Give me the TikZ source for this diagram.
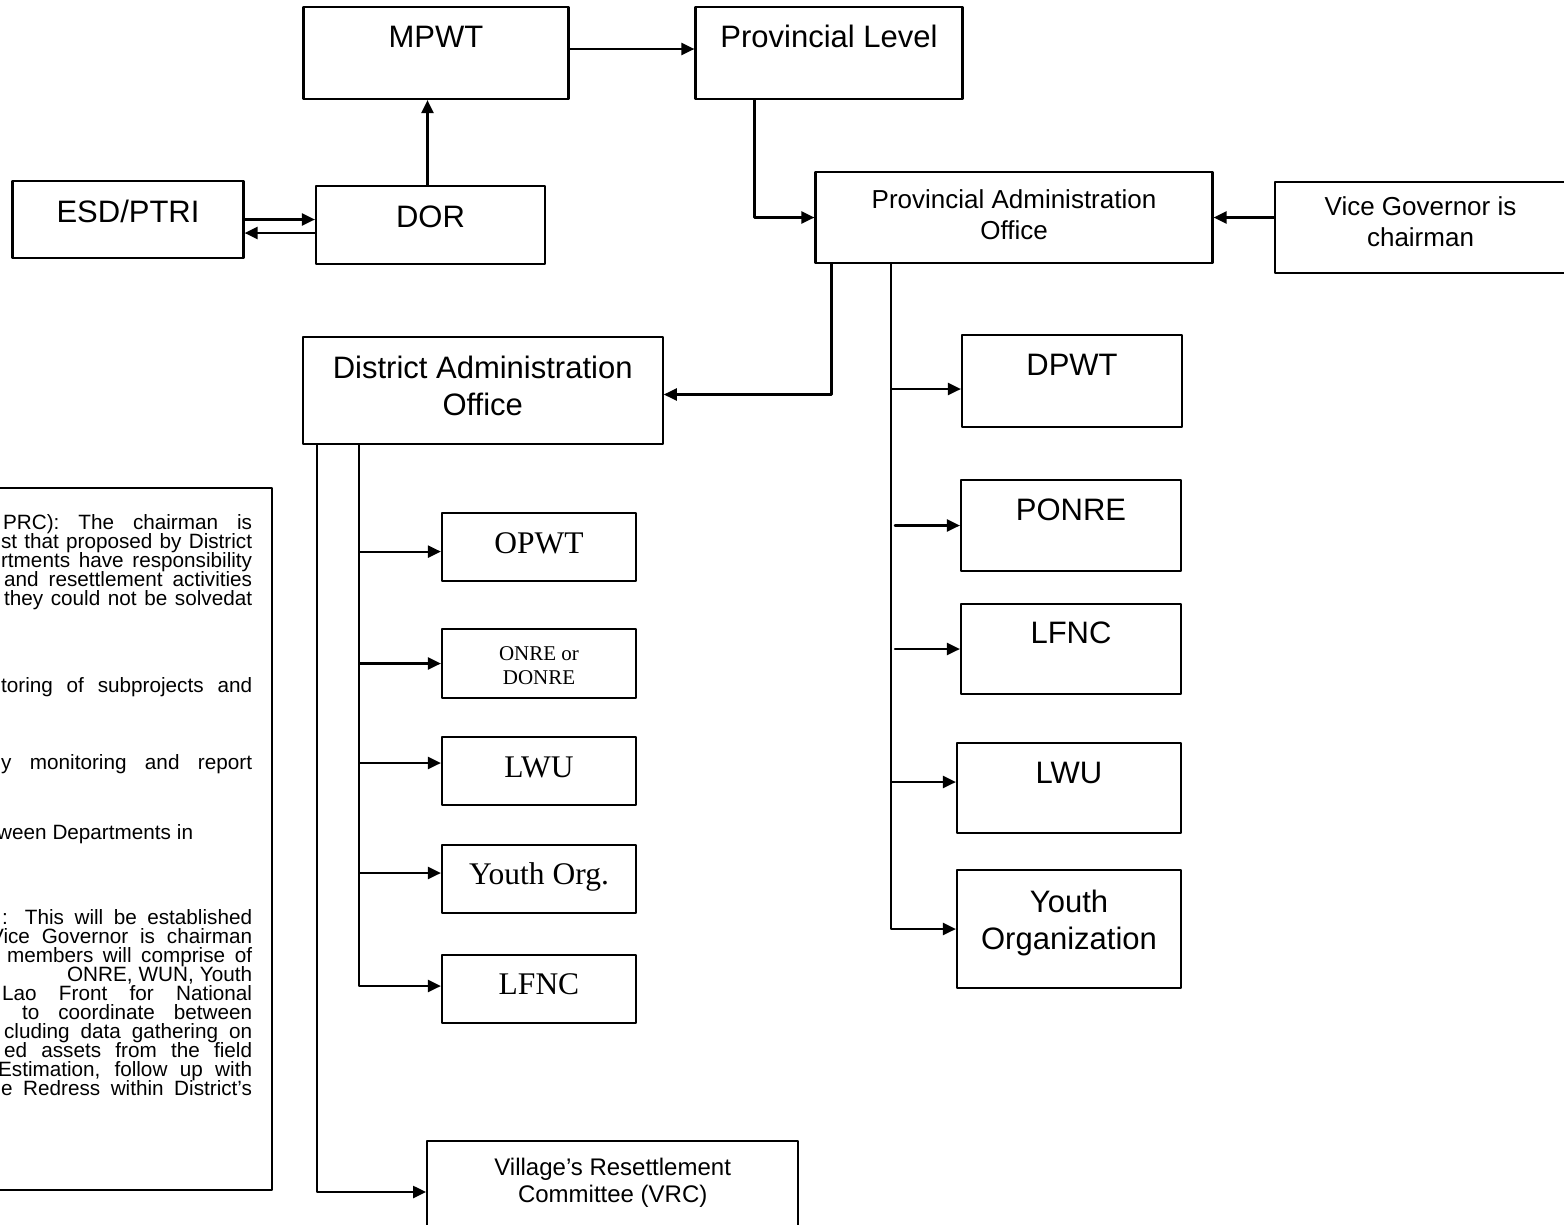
\documentclass[tikz,border=0pt]{standalone}
\usepackage{fontspec}
\setmainfont{Liberation Sans}
\newfontfamily\tnr{Liberation Serif}
\usetikzlibrary{arrows.meta}
\newcommand{\twoline}[2]{\begin{tabular}[t]{@{}c@{}}#1\\#2\end{tabular}}

\begin{document}
\begin{tikzpicture}[x=1pt,y=-1pt,>={Triangle[length=13pt,width=12pt]},line width=2.2pt,line join=round,line cap=round,
box/.style={draw,inner sep=0pt,anchor=base},
big/.style={font=\fontsize{31}{37}\selectfont},
mid/.style={font=\fontsize{26}{31}\selectfont},
rom/.style={font=\tnr\fontsize{31.5}{37}\selectfont},
tb/.style 2 args={text height=#1pt,text depth=#2pt}]
\useasboundingbox (0,0) rectangle (1564,1224);
\clip (0,0) rectangle (1564,1224);
% ministry and province
\node (mpwt) [box,big,minimum width=265pt,tb={40}{52}] at (436,47) {MPWT};
\node (plevel) [box,big,minimum width=267pt,tb={40}{52}] at (829,47) {Provincial Level};
\node (esd) [box,big,minimum width=231pt,tb={41}{36}] at (128,222) {ESD/PTRI};
\node (dor) [box,big,minimum width=229pt,tb={41}{37}] at (430.5,227) {DOR};
\node (pao) [box,mid,minimum width=397pt,tb={36}{55}] at (1014,208) {\twoline{Provincial Administration}{Office}};
\node (vice) [box,mid,minimum width=291pt,tb={33}{58}] at (1420.5,215) {\twoline{Vice Governor is}{chairman}};
% district
\node (dao) [box,big,minimum width=360pt,tb={41}{66}] at (482.7,378) {\twoline{District Administration}{Office}};
\node (opwt) [box,rom,minimum width=194pt,tb={40}{28}] at (539,553) {OPWT};
\node (onre) [box,font=\tnr\fontsize{21}{24}\selectfont,minimum width=194pt,tb={31}{38}] at (539,660) {\twoline{ONRE or}{DONRE}};
\node (dlwu) [box,rom,minimum width=194pt,tb={40}{28}] at (539,777) {LWU};
\node (dyouth) [box,rom,minimum width=194pt,tb={39}{29}] at (539,884) {Youth Org.};
\node (dlfnc) [box,rom,minimum width=194pt,tb={39}{29}] at (539,994) {LFNC};
\node (vrc) [box,font=\fontsize{24}{27}\selectfont,minimum width=371pt,tb={34}{100}] at (612.7,1175) {\twoline{Village’s Resettlement}{Committee (VRC)}};
% provincial departments
\node (dpwt) [box,big,minimum width=220pt,tb={40}{52}] at (1072,375) {DPWT};
\node (ponre) [box,big,minimum width=220pt,tb={40}{51}] at (1071,520) {PONRE};
\node (plfnc) [box,big,minimum width=220pt,tb={39}{51}] at (1071,643) {LFNC};
\node (plwu) [box,big,minimum width=224pt,tb={40}{50}] at (1069,783) {LWU};
\node (pyouth) [box,big,minimum width=224pt,tb={42}{76}] at (1069,912) {\twoline{Youth}{Organization}};
% note box, cut by the left edge
\node (note) [draw,minimum width=320pt,minimum height=702pt,anchor=north east] at (272.7,487) {};
\foreach \y/\xa/\xb/\txt in {529/2/251/{PRC): The chairman is},548/0/251/{st that proposed by District},
567/0/251/{rtments have responsibility},586/3/251/{and resettlement activities},605/3/251/{they could not be solvedat},
692/0/251/{toring of subprojects and},769/0/251/{y monitoring and report},839/-4/192/{ween Departments in},
924/1/251/{: This will be established},943/-11/251/{Vice Governor is chairman},962/6/251/{members will comprise of},
981/66/251/{ONRE, WUN, Youth},1000/1/251/{Lao Front for National},1019/21/251/{to coordinate between},
1038/3/251/{cluding data gathering on},1057/3/251/{ed assets from the field},1076/-3/251/{Estimation, follow up with},
1095/0/251/{e Redress within District’s}}
\node (n\y) [anchor=base west,inner sep=0pt,font=\fontsize{20.7}{19}\selectfont] at (\xa,\y) {\makebox[\dimexpr\xb pt-\xa pt\relax][s]{\txt}};
% connectors
\coordinate (up) at ([xshift=-3pt]dor.north);
\coordinate (back) at ([yshift=-13.5pt]esd.east);
\coordinate (pdrop) at ([xshift=60pt]plevel.south west);
\coordinate (ldrop) at ([xshift=17pt]pao.south west);
\coordinate (rt) at ([xshift=76.5pt]pao.south west);
\coordinate (la) at ([xshift=15.3pt]dao.south west);
\coordinate (lb) at ([xshift=57.3pt]dao.south west);
\draw[->] ([yshift=4pt]mpwt.east) -- ([yshift=4pt]plevel.west);
\draw[->] (up) -- (up |- mpwt.south);
\draw[->] (esd.east) -- (esd.east -| dor.west);
\draw[->] (back -| dor.west) -- (back);
\draw[->] (pdrop) |- (pao.west);
\draw[->] (vice.west |- pao.east) -- (pao.east);
\draw[->] (ldrop) |- ([yshift=-4pt]dao.east);
\draw[->] (rt) |- ([yshift=-8pt]dpwt.west);
\draw[->] (rt |- ponre.west) ++(4,0) -- (ponre.west);
\draw[->] (rt |- plfnc.west) ++(4,0) -- (plfnc.west);
\draw[->] (rt) |- ([yshift=6pt]plwu.west);
\draw[->] (rt) |- (pyouth.west);
\draw[->] (lb) |- ([yshift=-4.6pt]opwt.west);
\draw[->] (lb) |- (onre.west);
\draw[->] (lb) |- ([yshift=8pt]dlwu.west);
\draw[->] (lb) |- ([yshift=6pt]dyouth.west);
\draw[->] (lb) |- ([yshift=3pt]dlfnc.west);
\draw[->] (la) |- ([yshift=16pt]vrc.west);
\end{tikzpicture}
\end{document}
